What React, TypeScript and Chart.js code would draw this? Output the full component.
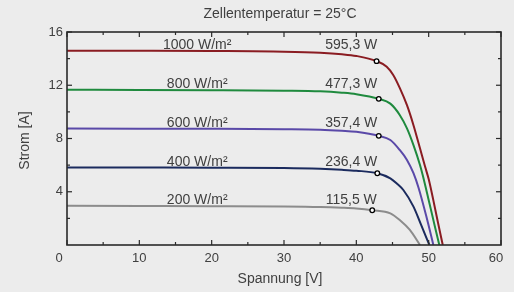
import React, { useEffect, useRef } from "react";
import { Chart, registerables } from "chart.js";

Chart.register(...registerables);

// ---- data ----
const titleText = "Zellentemperatur = 25°C";
const xTitle = "Spannung [V]";
const yTitle = "Strom [A]";

const irradianceLabels = ["1000 W/m²", "800 W/m²", "600 W/m²", "400 W/m²", "200 W/m²"];
const powerLabels = ["595,3 W", "477,3 W", "357,4 W", "236,4 W", "115,5 W"];

const v1000 = [0, 10, 20, 30, 35, 38, 40, 42.8, 44.2, 45.1, 46.0, 47.0, 47.9, 48.8, 49.5, 50.0, 50.65, 51.3, 51.95];
const i1000 = [14.6, 14.59, 14.57, 14.52, 14.44, 14.33, 14.2, 13.81, 13.39, 12.77, 11.8, 10.5, 9.0, 7.26, 5.9, 4.95, 3.35, 1.65, 0];

const v800 = [0, 10, 20, 30, 35, 38, 40, 43.1, 44.7, 46.0, 47.0, 47.9, 48.8, 49.2, 49.95, 50.9, 51.47];
const i800 = [11.66, 11.65, 11.63, 11.59, 11.54, 11.44, 11.33, 10.98, 10.62, 9.77, 8.76, 7.5, 6.01, 5.2, 3.5, 1.3, 0];

const v600 = [0, 10, 20, 30, 35, 38, 40, 43.1, 44.7, 46.0, 47.0, 47.9, 48.6, 49.7, 50.65];
const i600 = [8.75, 8.74, 8.73, 8.7, 8.66, 8.58, 8.5, 8.2, 7.89, 7.14, 6.39, 5.39, 4.3, 2.1, 0];

const v400 = [0, 10, 20, 30, 35, 38, 40, 42.9, 44.7, 45.6, 46.5, 47.9, 49.0, 50.1];
const i400 = [5.83, 5.82, 5.81, 5.78, 5.72, 5.65, 5.58, 5.39, 5.01, 4.62, 4.13, 2.88, 1.45, 0];

const v200 = [0, 10, 20, 30, 35, 38, 40, 42.2, 44.7, 46.0, 47.4, 48.8];
const i200 = [2.94, 2.93, 2.92, 2.9, 2.86, 2.8, 2.74, 2.61, 2.38, 1.88, 1.13, 0];

const mppVoltage = [42.8, 43.1, 43.1, 42.9, 42.2];
const mppCurrent = [13.81, 10.98, 8.2, 5.39, 2.61];

const labelVoltage = 18;
const powerLabelVoltage = 39.3;

const xTicks = [0, 10, 20, 30, 40, 50, 60];
const xMinorTicks = [5, 15, 25, 35, 45, 55];
const yTicks = [4, 8, 12, 16];
const yMinorTicks = [2, 6, 10, 14];

const curveColors = ["#8a1c22", "#1f8a3e", "#5a49a8", "#1b2b5e", "#8c8c8c"];

const voltages = [v1000, v800, v600, v400, v200];
const currents = [i1000, i800, i600, i400, i200];

const BG = "#ececec";
const TEXT = "#404040";
const AXIS = "#2a2a2a";
const FONT = "'Liberation Sans', Arial, sans-serif";

const decorPlugin = {
  id: "decor",
  beforeDraw(chart: any) {
    const { ctx } = chart;
    ctx.save();
    ctx.fillStyle = BG;
    ctx.fillRect(0, 0, chart.width, chart.height);
    ctx.restore();
  },
  afterDatasetsDraw(chart: any) {
    const { ctx, chartArea: a } = chart;
    const xs = chart.scales.x;
    const ys = chart.scales.y;
    ctx.save();
    // frame
    ctx.strokeStyle = AXIS;
    ctx.lineWidth = 1.6;
    ctx.strokeRect(a.left, a.top, a.right - a.left, a.bottom - a.top);
    ctx.lineWidth = 1.2;
    const tick = (x1: number, y1: number, x2: number, y2: number) => {
      ctx.beginPath();
      ctx.moveTo(x1, y1);
      ctx.lineTo(x2, y2);
      ctx.stroke();
    };
    xTicks.forEach((v) => {
      const x = xs.getPixelForValue(v);
      tick(x, a.bottom, x, a.bottom - 5);
      tick(x, a.top, x, a.top + 5);
    });
    xMinorTicks.forEach((v) => {
      const x = xs.getPixelForValue(v);
      tick(x, a.bottom, x, a.bottom - 3);
      tick(x, a.top, x, a.top + 3);
    });
    yTicks.forEach((v) => {
      const y = ys.getPixelForValue(v);
      tick(a.left, y, a.left + 5, y);
      tick(a.right, y, a.right - 5, y);
    });
    yMinorTicks.forEach((v) => {
      const y = ys.getPixelForValue(v);
      tick(a.left, y, a.left + 3, y);
      tick(a.right, y, a.right - 3, y);
    });

    // tick labels
    ctx.fillStyle = TEXT;
    ctx.font = `13px ${FONT}`;
    ctx.textBaseline = "middle";
    ctx.textAlign = "center";
    xTicks.forEach((v, k) => {
      let x = xs.getPixelForValue(v);
      if (k === 0) x -= 8;
      if (k === xTicks.length - 1) x -= 5;
      ctx.fillText(String(v), x, a.bottom + 13.5);
    });
    ctx.textAlign = "right";
    yTicks.forEach((v) => {
      ctx.fillText(String(v), a.left - 4, ys.getPixelForValue(v));
    });

    // titles
    ctx.font = `14px ${FONT}`;
    ctx.textAlign = "center";
    ctx.fillText(titleText, 280, 14);
    ctx.fillText(xTitle, 280, 279);
    ctx.save();
    ctx.translate(25, (a.top + a.bottom) / 2 + 2);
    ctx.rotate(-Math.PI / 2);
    ctx.fillText(yTitle, 0, 0);
    ctx.restore();

    // curve labels
    ctx.textBaseline = "alphabetic";
    currents.forEach((cur, k) => {
      const y = ys.getPixelForValue(cur[0]) - 1.5;
      ctx.fillText(irradianceLabels[k], xs.getPixelForValue(labelVoltage), y);
      ctx.fillText(powerLabels[k], xs.getPixelForValue(powerLabelVoltage), y);
    });
    ctx.restore();
  },
};

export default function App() {
  const ref = useRef<HTMLCanvasElement | null>(null);
  useEffect(() => {
    document.body.style.margin = "0";
    document.body.style.background = BG;
    const datasets: any[] = voltages.map((vs, k) => ({
      data: vs.map((v, j) => ({ x: v, y: currents[k][j] })),
      borderColor: curveColors[k],
      borderWidth: 2,
      pointRadius: 0,
      fill: false,
      cubicInterpolationMode: "monotone",
      order: 2,
    }));
    datasets.push({
      type: "scatter",
      data: mppVoltage.map((v, j) => ({ x: v, y: mppCurrent[j] })),
      pointRadius: 2.3,
      pointBorderWidth: 1.3,
      pointBorderColor: "#000",
      pointBackgroundColor: "#ffffff",
      showLine: false,
      order: 1,
    });
    const chart = new Chart(ref.current as HTMLCanvasElement, {
      type: "line",
      data: { datasets },
      options: {
        responsive: false,
        animation: false,
        layout: { padding: { left: 67, right: 13, top: 32, bottom: 47 } },
        plugins: { legend: { display: false }, title: { display: false }, tooltip: { enabled: false } },
        scales: {
          x: { type: "linear", min: 0, max: 60, display: false },
          y: { type: "linear", min: 0, max: 16, display: false },
        },
      },
      plugins: [decorPlugin],
    });
    return () => chart.destroy();
  }, []);
  return <canvas ref={ref} width={514} height={292} style={{ display: "block", width: 514, height: 292 }} />;
}
